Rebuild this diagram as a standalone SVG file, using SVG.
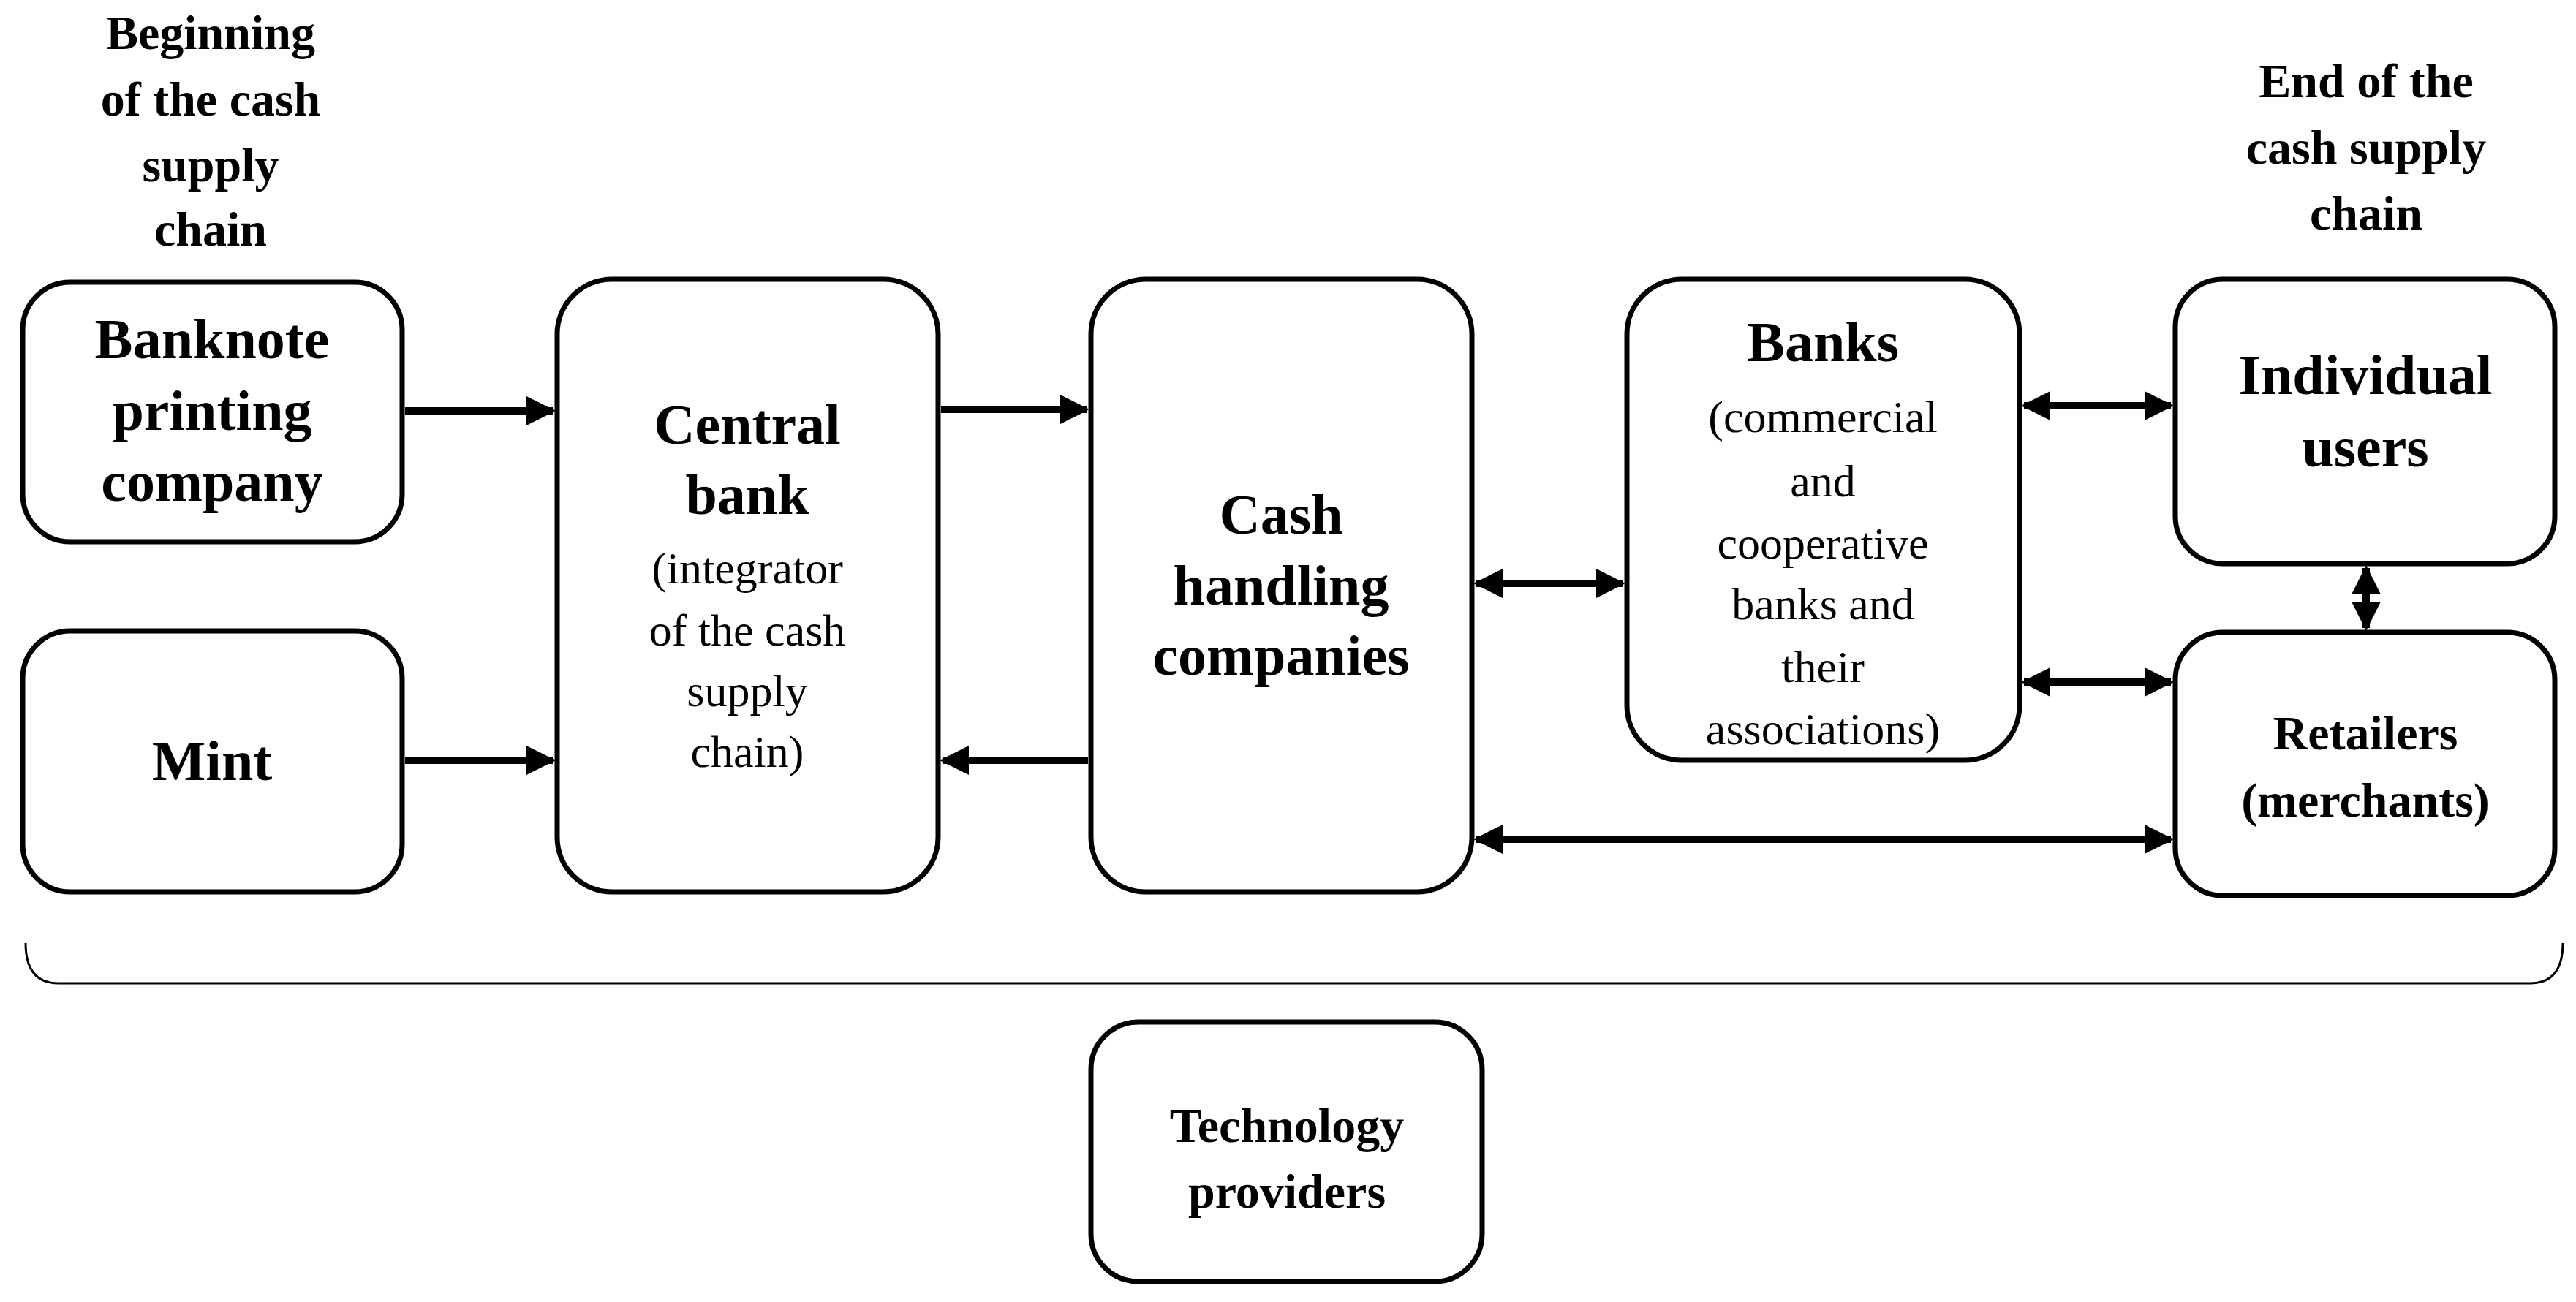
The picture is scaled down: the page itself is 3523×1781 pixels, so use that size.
<svg xmlns="http://www.w3.org/2000/svg" width="3523" height="1781" viewBox="0 0 3523 1781">
<style>
.box{fill:#fff;stroke:#000;stroke-width:7}
.t{font-family:"Liberation Serif",serif;text-anchor:middle;fill:#000}
.b{font-weight:bold;font-size:78px}
.r{font-size:62px}
.s{font-weight:bold;font-size:66px}
.c{stroke:#000;stroke-width:10;fill:none}
</style>
<defs>
<marker id="ah" viewBox="0 0 10 10" refX="9" refY="5" markerWidth="4" markerHeight="4" orient="auto-start-reverse" markerUnits="strokeWidth"><path d="M0,0 L10,5 L0,10 z" fill="#000"/></marker>
</defs>
<g id="label-begin" class="t s"><text x="288" y="67">Beginning</text><text x="288" y="158">of the cash</text><text x="288" y="248">supply</text><text x="288" y="336">chain</text></g>
<g id="label-end" class="t s"><text x="3236" y="133">End of the</text><text x="3236" y="224">cash supply</text><text x="3236" y="314">chain</text></g>
<g id="banknote"><rect class="box" x="31" y="386" width="519" height="355" rx="65"/><text class="t b" x="290" y="490">Banknote</text><text class="t b" x="290" y="588">printing</text><text class="t b" x="290" y="685">company</text></g>
<g id="mint"><rect class="box" x="31" y="863" width="519" height="357" rx="65"/><text class="t b" x="290" y="1067">Mint</text></g>
<g id="central"><rect class="box" x="762" y="382" width="521" height="838" rx="75"/><text class="t b" x="1022" y="607">Central</text><text class="t b" x="1022" y="703">bank</text><text class="t r" x="1022" y="798">(integrator</text><text class="t r" x="1022" y="883">of the cash</text><text class="t r" x="1022" y="966">supply</text><text class="t r" x="1022" y="1049">chain)</text></g>
<g id="cash"><rect class="box" x="1492" y="382" width="521" height="838" rx="75"/><text class="t b" x="1752" y="730">Cash</text><text class="t b" x="1752" y="827">handling</text><text class="t b" x="1752" y="923">companies</text></g>
<g id="banks"><rect class="box" x="2225" y="382" width="537" height="658" rx="75"/><text class="t b" x="2493" y="494">Banks</text><text class="t r" x="2493" y="591">(commercial</text><text class="t r" x="2493" y="679">and</text><text class="t r" x="2493" y="764">cooperative</text><text class="t r" x="2493" y="847">banks and</text><text class="t r" x="2493" y="933">their</text><text class="t r" x="2493" y="1018">associations)</text></g>
<g id="individual"><rect class="box" x="2975" y="382" width="519" height="389" rx="65"/><text class="t b" x="3235" y="539">Individual</text><text class="t b" x="3235" y="638">users</text></g>
<g id="retailers"><rect class="box" x="2975" y="865" width="519" height="360" rx="65"/><text class="t s" x="3235" y="1025">Retailers</text><text class="t s" x="3235" y="1117">(merchants)</text></g>
<g id="technology"><rect class="box" x="1492" y="1398" width="535" height="355" rx="65"/><text class="t s" x="1760" y="1562">Technology</text><text class="t s" x="1760" y="1652">providers</text></g>
<g id="connectors">
<line class="c" x1="554" y1="562" x2="756" y2="562" marker-end="url(#ah)"/>
<line class="c" x1="554" y1="1040" x2="756" y2="1040" marker-end="url(#ah)"/>
<line class="c" x1="1287" y1="560" x2="1486" y2="560" marker-end="url(#ah)"/>
<line class="c" x1="1488" y1="1040" x2="1289" y2="1040" marker-end="url(#ah)"/>
<line class="c" x1="2019" y1="798" x2="2219" y2="798" marker-start="url(#ah)" marker-end="url(#ah)"/>
<line class="c" x1="2768" y1="555" x2="2969" y2="555" marker-start="url(#ah)" marker-end="url(#ah)"/>
<line class="c" x1="2768" y1="933" x2="2969" y2="933" marker-start="url(#ah)" marker-end="url(#ah)"/>
<line class="c" x1="2019" y1="1148" x2="2969" y2="1148" marker-start="url(#ah)" marker-end="url(#ah)"/>
<line class="c" x1="3236" y1="777" x2="3236" y2="859" marker-start="url(#ah)" marker-end="url(#ah)"/>
<path d="M35,1290 Q35,1345 80,1345 L3460,1345 Q3505,1345 3505,1290" fill="none" stroke="#000" stroke-width="3"/>
</g>
</svg>
